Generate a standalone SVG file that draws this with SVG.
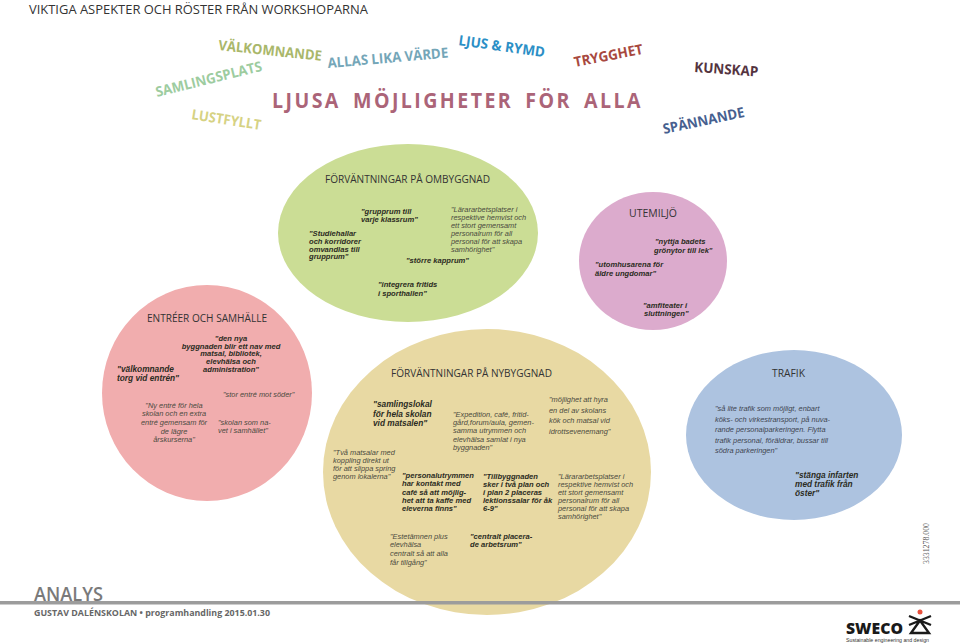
<svg xmlns="http://www.w3.org/2000/svg" width="960" height="644" viewBox="0 0 960 644">
<style>
text{font-family:"Liberation Sans",Arial,sans-serif;fill:#2b2b22}
.h{font-family:"Open Sans","Noto Sans",sans-serif;font-size:11px;fill:#333}
.w{font-family:"Open Sans","Noto Sans",sans-serif;font-weight:700;font-size:14px}
.b{font-weight:700;font-style:italic;font-size:7.6px}
.l{font-weight:700;font-style:italic;font-size:8.3px}
.i{font-style:italic;font-size:7.4px;fill:#4a4a3e}
.t{font-style:italic;font-size:7.4px;fill:#3f4550}
</style>
<rect width="960" height="644" fill="#fff"/>
<text x="29" y="14" class="h" style="font-size:13.5px" textLength="339" lengthAdjust="spacingAndGlyphs">VIKTIGA ASPEKTER OCH RÖSTER FRÅN WORKSHOPARNA</text>
<g id="words">
<text class="w" transform="translate(218 50) rotate(6)" style="fill:#a9b76a" textLength="104" lengthAdjust="spacingAndGlyphs">VÄLKOMNANDE</text>
<text class="w" transform="translate(328 68) rotate(-5)" style="fill:#74a6b8" textLength="121" lengthAdjust="spacingAndGlyphs">ALLAS LIKA VÄRDE</text>
<text class="w" transform="translate(458 45) rotate(8)" style="fill:#2b8fc6" textLength="87" lengthAdjust="spacingAndGlyphs">LJUS &amp; RYMD</text>
<text class="w" transform="translate(575 67) rotate(-11)" style="fill:#a8493f" textLength="70" lengthAdjust="spacingAndGlyphs">TRYGGHET</text>
<text class="w" transform="translate(694 72) rotate(4)" style="fill:#54343f" textLength="64" lengthAdjust="spacingAndGlyphs">KUNSKAP</text>
<text class="w" transform="translate(157 97) rotate(-14)" style="fill:#9dcc9f" textLength="109" lengthAdjust="spacingAndGlyphs">SAMLINGSPLATS</text>
<text class="w" transform="translate(191 119) rotate(9)" style="fill:#d6d283" textLength="70" lengthAdjust="spacingAndGlyphs">LUSTFYLLT</text>
<text class="w" transform="translate(664 134) rotate(-12)" style="fill:#46608f" textLength="83" lengthAdjust="spacingAndGlyphs">SPÄNNANDE</text>
<text class="w" x="272" y="108" style="fill:#ab6478;font-size:21px;letter-spacing:2.6px;word-spacing:5px" textLength="371" lengthAdjust="spacingAndGlyphs">LJUSA MÖJLIGHETER FÖR ALLA</text>
</g>
<g id="ombyggnad">
<ellipse cx="408" cy="233" rx="130" ry="89" fill="#cbdd95"/>
<text class="h" x="325" y="183" textLength="165" lengthAdjust="spacingAndGlyphs">FÖRVÄNTNINGAR PÅ OMBYGGNAD</text>
<text class="b" x="361" y="214">"grupprum till</text><text class="b" x="361" y="222">varje klassrum"</text>
<text class="b" x="309" y="236">"Studiehallar</text><text class="b" x="309" y="244">och korridorer</text><text class="b" x="309" y="251.5">omvandlas till</text><text class="b" x="309" y="259">grupprum"</text>
<text class="i" x="451" y="212">"Lärararbetsplatser i</text><text class="i" x="451" y="220">respektive hemvist och</text><text class="i" x="451" y="228">ett stort gemensamt</text><text class="i" x="451" y="236">personalrum för all</text><text class="i" x="451" y="244">personal för att skapa</text><text class="i" x="451" y="252">samhörighet"</text>
<text class="b" x="406" y="263">"större kapprum"</text>
<text class="b" x="378" y="287">"integrera fritids</text><text class="b" x="378" y="296">i sporthallen"</text>
</g>
<g id="utemiljo">
<ellipse cx="653" cy="261" rx="74" ry="69" fill="#dcabcd"/>
<text class="h" x="629" y="217" textLength="48" lengthAdjust="spacingAndGlyphs">UTEMILJÖ</text>
<text class="b" x="655" y="244">"nyttja badets</text><text class="b" x="654" y="253">grönytor till lek"</text>
<text class="b" x="595" y="267">"utomhusarena för</text><text class="b" x="595" y="276">äldre ungdomar"</text>
<text class="b" x="643" y="308">"amfiteater i</text><text class="b" x="644" y="316">sluttningen"</text>
</g>
<g id="entreer">
<ellipse cx="207" cy="393" rx="105" ry="108" fill="#f1adae"/>
<text class="h" x="147" y="322" textLength="120" lengthAdjust="spacingAndGlyphs">ENTRÉER OCH SAMHÄLLE</text>
<g text-anchor="middle"><text class="b" x="231" y="341">"den nya</text><text class="b" x="231" y="348.5">byggnaden blir ett nav med</text><text class="b" x="231" y="356">matsal, bibliotek,</text><text class="b" x="231" y="364">elevhälsa och</text><text class="b" x="231" y="371.5">administration"</text></g>
<text class="l" x="117" y="372">"välkomnande</text><text class="l" x="117" y="381">torg vid entrén"</text>
<text class="i" x="223" y="397">"stor entré mot söder"</text>
<g text-anchor="middle"><text class="i" x="174" y="408">"Ny entré för hela</text><text class="i" x="174" y="416">skolan och en extra</text><text class="i" x="174" y="425">entré gemensam för</text><text class="i" x="174" y="434">de lägre</text><text class="i" x="174" y="442">årskurserna"</text></g>
<text class="i" x="218" y="425">"skolan som na-</text><text class="i" x="218" y="433">vet i samhället"</text>
</g>
<g id="nybyggnad">
<ellipse cx="487" cy="472" rx="164" ry="143" fill="#e8d9a3"/>
<text class="h" x="391" y="377" textLength="161" lengthAdjust="spacingAndGlyphs">FÖRVÄNTNINGAR PÅ NYBYGGNAD</text>
<text class="l" x="373" y="407">"samlingslokal</text><text class="l" x="373" y="417">för hela skolan</text><text class="l" x="373" y="426">vid matsalen"</text>
<text class="i" x="453" y="417">"Expedition, café, fritid-</text><text class="i" x="453" y="425">gård,forum/aula, gemen-</text><text class="i" x="453" y="433">samma utrymmen och</text><text class="i" x="453" y="442">elevhälsa samlat i nya</text><text class="i" x="453" y="450">byggnaden"</text>
<text class="i" x="549" y="402">"möjlighet att hyra</text><text class="i" x="549" y="413">en del av skolans</text><text class="i" x="549" y="423">kök och matsal vid</text><text class="i" x="549" y="434">idrottsevenemang"</text>
<text class="i" x="333" y="455">"Två matsalar med</text><text class="i" x="333" y="463">koppling direkt ut</text><text class="i" x="333" y="471">för att slippa spring</text><text class="i" x="333" y="479">genom lokalerna"</text>
<text class="b" x="402" y="478">"personalutrymmen</text><text class="b" x="402" y="486">har kontakt med</text><text class="b" x="402" y="495">café så att möjlig-</text><text class="b" x="402" y="503">het att ta kaffe med</text><text class="b" x="402" y="510.5">eleverna finns"</text>
<text class="b" x="483" y="479">"Tillbyggnaden</text><text class="b" x="483" y="487">sker i två plan och</text><text class="b" x="483" y="495">i plan 2 placeras</text><text class="b" x="483" y="503">lektionssalar för åk</text><text class="b" x="483" y="511">6-9"</text>
<text class="i" x="558" y="479">"Lärararbetsplatser i</text><text class="i" x="558" y="487">respektive hemvist och</text><text class="i" x="558" y="495">ett stort gemensamt</text><text class="i" x="558" y="503">personalrum för all</text><text class="i" x="558" y="511">personal för att skapa</text><text class="i" x="558" y="519">samhörighet"</text>
<text class="i" x="390" y="539">"Estetämnen plus</text><text class="i" x="390" y="547">elevhälsa</text><text class="i" x="390" y="556">centralt så att alla</text><text class="i" x="390" y="565">får tillgång"</text>
<text class="b" x="470" y="539">"centralt placera-</text><text class="b" x="470" y="547">de arbetsrum"</text>
</g>
<g id="trafik">
<ellipse cx="794" cy="435" rx="108" ry="85" fill="#adc3e0"/>
<text class="h" x="772" y="377" textLength="33" lengthAdjust="spacingAndGlyphs">TRAFIK</text>
<text class="t" x="715" y="411">"så lite trafik som möjligt, enbart</text><text class="t" x="715" y="422">köks- och virkestransport, på nuva-</text><text class="t" x="715" y="432">rande personalparkeringen. Flytta</text><text class="t" x="715" y="443">trafik personal, föräldrar, bussar till</text><text class="t" x="715" y="453">södra parkeringen"</text>
<text class="l" x="795" y="478">"stänga infarten</text><text class="l" x="795" y="487">med trafik från</text><text class="l" x="795" y="496">öster"</text>
</g>
<g id="footer">
<text x="34" y="601" style="font-family:'Open Sans',sans-serif;font-weight:600;font-size:20px;fill:#7a7a7a" textLength="69" lengthAdjust="spacingAndGlyphs">ANALYS</text>
<rect x="0" y="601" width="960" height="3.5" fill="#9c9c9c"/>
<text x="34" y="615.5" style="font-family:'Open Sans',sans-serif;font-weight:700;font-size:9.5px;fill:#666" textLength="236" lengthAdjust="spacingAndGlyphs">GUSTAV DALÉNSKOLAN • programhandling 2015.01.30</text>
<text transform="translate(929 564) rotate(-90)" style="font-family:'Liberation Serif',serif;font-size:9px;fill:#555" textLength="41" lengthAdjust="spacingAndGlyphs">3331278.000</text>
</g>
<g id="logo">
<text x="846" y="634" style="font-family:'Open Sans',sans-serif;font-weight:800;font-size:15px;fill:#1a1a1a" textLength="57" lengthAdjust="spacingAndGlyphs">SWECO</text>
<circle cx="920" cy="612" r="2.5" fill="#e8503c"/>
<path d="M909 616L931 625M931 616L909 625M920 620.5L911 633H929Z" fill="none" stroke="#1a1a1a" stroke-width="2.4"/>
<text x="846" y="642" style="font-size:5.2px;fill:#333" textLength="83" lengthAdjust="spacingAndGlyphs">Sustainable engineering and design</text>
</g>
</svg>
